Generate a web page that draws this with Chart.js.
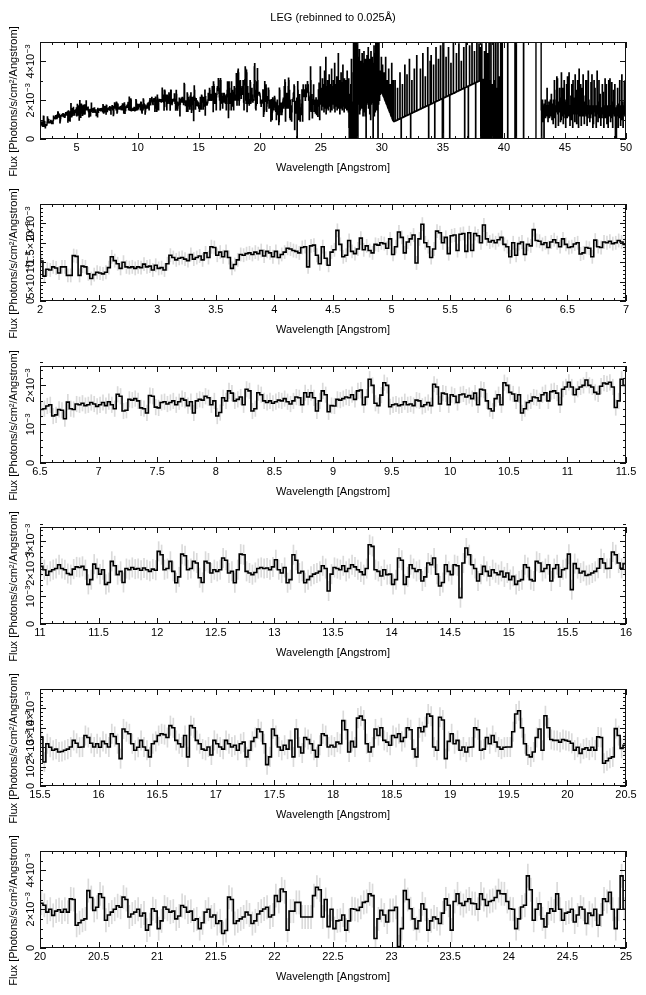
<!DOCTYPE html>
<html lang="en">
<head>
<meta charset="UTF-8">
<title>LEG (rebinned to 0.025Å)</title>
<script src="https://cdn.jsdelivr.net/npm/chart.js@4.4.1/dist/chart.umd.min.js"></script>
<style>
  body { margin: 0; background: #fff; }
  #wrap { position: relative; width: 646px; height: 995px; }
  #wrap canvas { position: absolute; left: 0; }
</style>
</head>
<body>
<div id="wrap"></div>
<script>
// flux per 0.025 A bin, in units of 1e-5 photons/s/cm2/Angstrom
const binWidth = 0.025;
const fluxScale = 1e-5;

// 2.000 - 6.475 A
const segA = [
  103,64,82,80,88,85,72,88,88,66,66,117,115,66,90,88,70,58,68,74,
  72,70,74,86,114,104,96,84,100,88,86,88,84,88,86,95,88,90,80,92,
  84,86,80,96,118,112,106,110,112,108,104,120,108,112,116,106,124,112,140,138,
  118,126,114,128,112,84,94,106,120,118,122,124,120,126,122,130,116,128,124,114,
  128,112,120,126,136,134,130,128,124,138,140,88,142,144,118,96,140,110,92,126,
  132,182,146,114,118,156,128,122,134,162,132,142,130,124,146,144,150,148,136,160,
  120,140,178,164,124,152,160,170,98,160,198,150,140,112,134,180,176,150,164,122,
  168,170,130,172,174,128,176,130,174,168,150,196,160,152,156,150,158,164,146,140,
  114,150,118,148,152,120,146,142,184,156,154,146,150,138,152,158,150,140,160,146
];
// 6.500 - 10.975 A
const segB = [
  138,140,147,150,121,124,138,136,114,157,140,138,152,150,154,148,150,156,152,146,
  150,156,148,158,150,140,177,172,134,136,164,162,166,160,142,140,129,174,172,144,
  142,156,158,152,156,160,150,158,166,162,148,158,129,160,164,162,172,168,150,160,
  121,130,168,160,186,180,160,164,170,150,190,186,134,140,181,176,160,156,160,154,
  158,162,160,166,158,152,160,170,168,150,181,170,181,168,134,160,186,176,132,148,
  147,164,162,166,170,168,176,164,186,188,150,170,216,200,154,148,175,207,200,145,
  150,152,148,150,158,150,152,148,162,160,146,150,156,148,203,196,152,180,178,150,
  176,172,156,176,178,170,174,166,180,150,190,188,160,140,134,166,176,150,207,200,
  182,178,160,176,129,140,156,160,170,168,160,176,181,160,184,186,180,150,190,196
];
// 11.000 - 15.475 A
const segC = [
  208,196,176,190,196,200,214,200,196,182,178,198,206,204,208,196,143,160,216,200,
  180,196,143,150,226,210,178,190,150,200,196,204,198,200,194,202,196,190,198,194,
  262,250,196,200,226,190,149,170,252,246,196,200,226,220,167,150,226,220,184,196,
  190,196,238,230,184,190,149,196,252,250,190,184,178,186,200,204,200,202,196,206,
  232,196,184,204,149,160,250,230,184,190,149,160,172,180,184,190,210,200,119,180,
  204,200,196,210,190,200,214,206,196,188,178,200,286,280,196,190,173,196,178,180,
  143,160,238,230,143,170,214,200,190,196,155,170,220,214,238,180,137,150,214,190,
  178,214,210,95,220,274,250,214,200,155,180,208,190,173,196,185,178,190,170,184,
  160,172,143,155,160,214,204,160,155,226,220,190,200,214,155,200,214,170,196,200
];
// 15.500 - 19.975 A
const segD = [
  252,124,218,200,184,190,175,178,184,190,201,235,220,200,201,260,250,220,201,218,
  200,230,218,201,269,255,218,141,294,280,269,218,184,200,235,201,184,150,218,230,
  260,269,265,250,311,300,235,218,201,260,150,311,300,235,218,190,184,201,160,235,
  218,201,190,235,218,201,210,184,218,226,150,184,230,250,294,280,218,110,150,294,
  260,201,184,210,190,235,150,294,201,170,250,240,218,184,150,210,269,260,201,210,
  201,226,218,337,290,175,230,201,350,360,340,218,175,201,294,260,300,235,226,210,
  260,250,269,230,250,300,290,190,150,300,280,306,371,360,201,184,354,340,141,230,
  269,218,235,184,201,175,200,201,300,290,184,190,250,218,260,226,201,190,200,201,
  201,280,371,388,300,218,160,150,175,250,294,184,362,300,240,235,235,226,240,235
];
// 20.000 - 24.975 A
const segE = [
  231,220,185,200,168,190,197,185,200,185,253,250,117,130,143,150,296,260,194,210,
  279,260,143,170,185,200,218,210,262,250,160,175,185,200,165,180,92,120,202,190,
  100,140,211,200,185,190,150,165,219,210,185,190,143,150,100,130,185,200,160,170,
  126,140,75,90,262,250,126,140,150,160,185,170,126,140,175,190,201,210,160,170,
  270,240,304,290,92,190,190,235,235,160,160,160,160,270,313,300,160,250,110,200,
  100,140,143,170,92,140,202,200,194,210,235,240,279,270,49,150,194,170,134,194,
  194,210,7,100,296,250,202,150,100,140,228,200,92,140,160,150,126,180,253,220,
  92,240,279,230,219,240,253,230,228,200,279,250,219,240,245,260,296,280,279,240,
  202,200,100,150,211,220,372,300,143,200,228,150,109,180,202,190,279,200,143,180,
  185,200,134,170,211,200,126,180,168,200,117,170,253,240,287,200,100,200,372,200
];
// 25.000 - 49.975 A (only shown in the overview panel), one row per Angstrom
const segF = [
  215,180,260,150,230,310,170,240,190,280,140,220,350,160,250,200,420,130,240,190,270,160,300,210,150,260,190,330,170,230,280,140,210,250,190,360,150,240,200,270,
  180,300,220,160,260,390,140,230,200,280,170,250,320,150,210,270,190,440,160,230,200,300,130,250,210,180,340,160,240,290,150,220,380,170,260,200,140,310,230,190,
  240,160,300,200,280,150,350,190,260,220,140,310,60,0,230,0,120,0,280,0,410,0,190,0,150,0,340,800,0,700,20,600,0,900,250,0,700,100,650,0,
  550,0,420,180,380,200,460,130,300,150,400,190,250,380,160,440,200,320,120,390,170,450,140,280,350,120,410,220,0,360,180,430,190,300,250,470,160,340,200,410,
  130,380,260,100,450,180,330,190,420,210,300,0,390,160,480,120,270,360,140,440,700,230,150,310,150,600,260,0,390,180,800,220,200,350,250,230,330,240,420,250,
  240,236,380,228,224,220,216,340,208,204,200,196,420,188,184,180,176,300,168,164,160,156,360,148,144,140,136,280,128,124,120,116,390,108,104,100,96,300,91,90,
  90,91,92,300,93,94,95,95,96,97,98,260,99,100,101,101,102,103,104,340,105,106,107,0,108,109,110,280,111,112,113,113,114,115,116,380,117,118,119,119,
  120,121,330,122,123,124,125,125,126,127,410,128,129,130,0,131,132,133,300,134,135,136,137,137,138,139,360,140,141,142,143,143,144,145,430,146,147,148,149,149,
  150,151,152,152,153,154,360,155,156,157,158,158,159,160,440,161,162,163,164,164,165,166,320,167,168,169,170,170,171,172,470,173,174,0,175,176,176,177,400,179,
  180,430,181,182,183,184,185,185,186,380,188,188,189,0,191,191,192,470,194,194,195,196,197,197,198,410,200,200,201,202,203,203,480,205,206,206,207,208,0,209,
  800,0,900,212,213,214,215,215,216,217,420,218,219,220,221,221,222,223,470,224,225,226,0,227,228,229,390,230,231,232,233,233,234,235,500,236,236,237,238,239,
  240,241,242,242,440,244,245,245,246,247,248,248,490,250,251,251,252,253,254,254,400,256,257,257,258,259,260,260,470,262,263,0,264,265,266,266,500,268,269,269,
  270,271,272,0,273,274,275,480,276,277,278,278,279,280,281,520,282,283,284,284,285,286,287,450,288,289,290,0,291,292,293,600,294,295,296,296,297,298,490,299,
  300,301,470,302,0,303,304,490,305,0,306,307,0,300,0,0,450,0,310,0,0,900,0,0,320,0,440,0,0,330,0,900,0,0,300,0,0,900,0,0,
  0,0,280,0,0,0,900,0,0,300,0,0,0,900,0,0,260,0,0,0,900,0,0,0,320,0,0,0,0,900,0,0,0,0,900,0,0,0,0,0,
  0,0,0,0,0,0,0,0,0,0,0,0,900,0,0,0,0,0,0,0,0,0,0,0,0,0,0,0,0,0,0,0,0,0,0,0,900,0,0,0,
  900,0,0,0,0,0,0,0,0,0,0,0,0,0,0,0,0,0,0,0,0,0,0,0,900,0,0,0,0,0,0,0,0,0,0,0,0,0,0,0,
  0,0,0,0,0,0,0,0,0,0,0,0,0,0,0,0,0,0,0,0,0,0,0,0,0,900,900,900,900,900,900,900,900,900,900,900,900,900,900,900,
  900,900,150,0,160,140,200,90,170,150,130,0,180,140,160,200,110,170,130,150,120,260,140,170,90,150,130,190,150,110,160,140,200,120,170,230,150,100,180,140,
  160,80,200,140,110,300,250,130,160,60,170,140,200,320,150,310,130,170,70,150,190,140,260,160,210,90,150,100,340,140,180,120,260,150,80,170,110,300,140,190,
  130,170,60,200,150,280,140,110,320,130,190,150,120,340,140,170,70,160,130,220,150,100,280,140,160,60,300,150,130,170,210,140,90,330,130,180,150,250,80,170,
  140,300,130,170,60,160,360,150,120,180,140,280,130,70,170,150,260,140,120,330,130,190,150,80,170,140,220,130,300,120,300,150,70,170,140,110,350,150,200,130,
  160,90,170,140,110,290,150,130,330,140,170,60,160,80,150,300,180,140,260,120,160,150,60,170,140,350,130,160,90,190,150,300,110,170,130,230,150,70,160,140,
  150,110,280,130,160,240,140,60,170,150,130,310,110,160,140,280,130,80,120,170,140,60,160,300,180,150,120,310,140,90,130,170,110,290,190,140,60,160,130,250,
  140,170,120,280,130,0,160,110,0,140,170,120,260,150,60,180,140,110,160,300,130,150,70,170,140,100,330,130,190,150,60,140,170,130,290,150,120,300,140,130
];
const segments = [segA, segB, segC, segD, segE, segF];
const segStart = [2, 6.5, 11, 15.5, 20, 25];

// panels: overview first, then the zoomed 5 A windows
const panelMin = [2, 2, 6.5, 11, 15.5, 20];
const panelMax = [50, 7, 11.5, 16, 20.5, 25];
const panelYMax = [5e-3, 2.5e-3, 2.5e-3, 3.5e-3, 5e-3, 5e-3];
const xMajorStep = [5, 0.5, 0.5, 0.5, 0.5, 0.5];
const xMinorStep = [1, 0.1, 0.1, 0.1, 0.1, 0.1];
const yTickValues = [
  [0, 2e-3, 4e-3],
  [0, 5e-4, 1e-3, 1.5e-3, 2e-3],
  [0, 1e-3, 2e-3],
  [0, 1e-3, 2e-3, 3e-3],
  [0, 1e-3, 2e-3, 3e-3, 4e-3],
  [0, 2e-3, 4e-3]
];
const yTickLabels = [
  ['0', '2×10^−3', '4×10^−3'],
  ['0', '5×10^−4', '10^−3', '1.5×10^−3', '2×10^−3'],
  ['0', '10^−3', '2×10^−3'],
  ['0', '10^−3', '2×10^−3', '3×10^−3'],
  ['0', '10^−3', '2×10^−3', '3×10^−3', '4×10^−3'],
  ['0', '2×10^−3', '4×10^−3']
];
const yMinorStep = [1e-3, 1e-4, 2e-4, 2e-4, 2e-4, 5e-4];
// typical half length of the error bars (same units as the segments)
const errHalf = [0, 17, 20, 35, 50, 60];

const chartTitle = 'LEG (rebinned to 0.025Å)';
const xTitle = 'Wavelength [Angstrom]';
const yTitle = 'Flux [Photons/s/cm²/Angstrom]';

// layout
const plotTops = [42, 204, 366, 527, 689, 851];
const plotH = 97;
const topSpace = 42, bottomSpace = 45, yAxisW = 40, rightSpace = 20;
const fontFamily = "'Liberation Sans', Arial, Helvetica, sans-serif";

Chart.defaults.font.family = fontFamily;
Chart.defaults.font.size = 11;
Chart.defaults.color = '#000';

// all bins as {lo, f}
const bins = [];
segments.forEach((seg, s) => {
  seg.forEach((f, i) => {
    bins.push({ lo: Math.round((segStart[s] + i * binWidth) * 1000) / 1000, f: f });
  });
});

function drawSciRotated(ctx, text, x, y) {
  const parts = text.split('^');
  ctx.font = '11px ' + fontFamily;
  const wb = ctx.measureText(parts[0]).width;
  let we = 0;
  if (parts[1]) {
    ctx.font = '8px ' + fontFamily;
    we = ctx.measureText(parts[1]).width + 0.5;
  }
  ctx.save();
  ctx.translate(x, y);
  ctx.rotate(-Math.PI / 2);
  ctx.textAlign = 'left';
  ctx.textBaseline = 'alphabetic';
  const start = -(wb + we) / 2;
  ctx.font = '11px ' + fontFamily;
  ctx.fillText(parts[0], start, 0);
  if (parts[1]) {
    ctx.font = '8px ' + fontFamily;
    ctx.fillText(parts[1], start + wb + 0.5, -4.5);
  }
  ctx.restore();
}

const framePlugin = {
  id: 'frame',
  afterDraw(chart, args, opts) {
    const k = opts.panel;
    const ctx = chart.ctx;
    const a = chart.chartArea;
    const xs = chart.scales.x, ys = chart.scales.y;
    ctx.save();
    ctx.strokeStyle = '#111';
    ctx.lineWidth = 1;
    ctx.strokeRect(a.left + 0.5, a.top + 0.5, a.right - a.left - 1, a.bottom - a.top - 1);

    ctx.beginPath();
    // x ticks, inward on bottom and top
    const majX = xs.ticks.map(t => t.value);
    const nx = Math.round((panelMax[k] - panelMin[k]) / xMinorStep[k]);
    for (let i = 0; i <= nx; i++) {
      const v = panelMin[k] + i * xMinorStep[k];
      const len = majX.some(m => Math.abs(m - v) < 1e-6) ? 6 : 3;
      const px = Math.round(xs.getPixelForValue(v)) + 0.5;
      ctx.moveTo(px, a.bottom); ctx.lineTo(px, a.bottom - len);
      ctx.moveTo(px, a.top); ctx.lineTo(px, a.top + len);
    }
    // y ticks, inward on left and right
    const ny = Math.round(panelYMax[k] / yMinorStep[k]);
    for (let i = 0; i <= ny; i++) {
      const v = i * yMinorStep[k];
      const len = yTickValues[k].some(m => Math.abs(m - v) < 1e-9) ? 6 : 3;
      const py = Math.round(ys.getPixelForValue(v)) + 0.5;
      ctx.moveTo(a.left, py); ctx.lineTo(a.left + len, py);
      ctx.moveTo(a.right, py); ctx.lineTo(a.right - len, py);
    }
    ctx.stroke();

    // rotated y tick labels
    ctx.fillStyle = '#000';
    yTickValues[k].forEach((v, i) => {
      drawSciRotated(ctx, yTickLabels[k][i], 34, ys.getPixelForValue(v));
    });

    // y axis title
    ctx.save();
    ctx.translate(17, (a.top + a.bottom) / 2 + 11);
    ctx.rotate(-Math.PI / 2);
    ctx.font = '11px ' + fontFamily;
    ctx.textAlign = 'center';
    ctx.textBaseline = 'alphabetic';
    ctx.fillText(yTitle, 0, 0);
    ctx.restore();
    ctx.restore();
  }
};

const wrap = document.getElementById('wrap');
for (let k = 0; k < 6; k++) {
  const canvas = document.createElement('canvas');
  const h = topSpace + plotH + bottomSpace;
  canvas.width = 646;
  canvas.height = h;
  canvas.style.width = '646px';
  canvas.style.height = h + 'px';
  canvas.style.top = (plotTops[k] - topSpace) + 'px';
  wrap.appendChild(canvas);

  const inPanel = bins.filter(b => b.lo >= panelMin[k] - 1e-6 && b.lo < panelMax[k] - 1e-6);
  const stepData = inPanel.map(b => ({ x: b.lo, y: b.f * fluxScale }));
  stepData.push({ x: panelMax[k], y: inPanel[inPanel.length - 1].f * fluxScale });

  const datasets = [{
    type: 'line',
    data: stepData,
    stepped: true,
    borderColor: '#000',
    borderWidth: k === 0 ? 1.4 : 1.6,
    pointRadius: 0,
    fill: false,
    order: 0
  }];
  if (errHalf[k] > 0) {
    datasets.push({
      type: 'bar',
      data: inPanel.map(b => ({
        x: b.lo + binWidth / 2,
        y: [(b.f - errHalf[k]) * fluxScale, (b.f + errHalf[k]) * fluxScale]
      })),
      backgroundColor: '#dadada',
      borderWidth: 0,
      barThickness: 1,
      order: 1
    });
  }

  new Chart(canvas, {
    type: 'line',
    data: { datasets: datasets },
    options: {
      responsive: false,
      animation: false,
      events: [],
      layout: { padding: { top: k === 0 ? 0 : topSpace, right: rightSpace, left: 0, bottom: 0 } },
      plugins: {
        legend: { display: false },
        tooltip: { enabled: false },
        title: {
          display: k === 0,
          text: chartTitle,
          fullSize: false,
          color: '#000',
          font: { size: 11, weight: 'normal' },
          padding: { top: 11.4, bottom: 17.4 }
        },
        frame: { panel: k }
      },
      scales: {
        x: {
          type: 'linear',
          min: panelMin[k],
          max: panelMax[k],
          offset: false,
          grid: { display: false, drawTicks: false },
          border: { display: false },
          ticks: {
            stepSize: xMajorStep[k],
            includeBounds: k !== 0,
            autoSkip: false,
            maxRotation: 0,
            padding: 2,
            color: '#000',
            callback: v => String(Math.round(v * 1000) / 1000)
          },
          title: {
            display: true,
            text: xTitle,
            color: '#000',
            padding: { top: 0, bottom: 9.4 }
          },
          afterFit: s => { s.height = bottomSpace; }
        },
        y: {
          min: 0,
          max: panelYMax[k],
          grid: { display: false, drawTicks: false },
          border: { display: false },
          ticks: { display: false },
          afterFit: s => { s.width = yAxisW; }
        }
      }
    },
    plugins: [framePlugin]
  });
}
</script>
</body>
</html>
